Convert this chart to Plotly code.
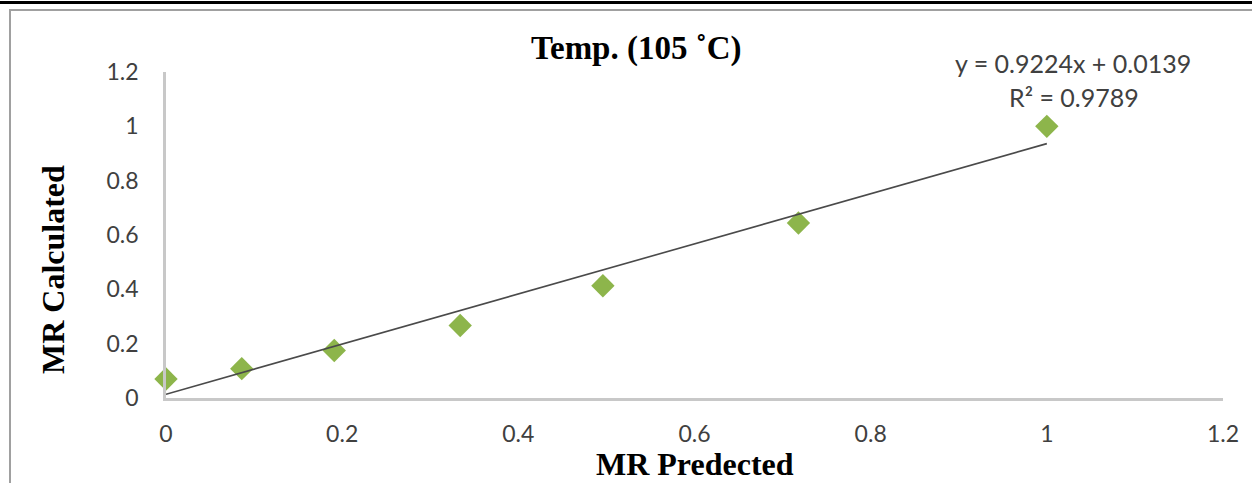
import plotly.graph_objects as go

# ---- data ----
mr_predicted = [0.0, 0.086, 0.191, 0.334, 0.496, 0.718, 1.0]
mr_calculated = [0.070, 0.108, 0.175, 0.267, 0.413, 0.644, 1.0]
trend_slope = 0.9224
trend_intercept = 0.0139
trend_x = [0.0, 1.0]
tick_vals = [0, 0.2, 0.4, 0.6, 0.8, 1.0, 1.2]
tick_text = ["0", "0.2", "0.4", "0.6", "0.8", "1", "1.2"]
chart_title = "Temp. (105 ˚C)"
x_title = "MR Predected"
y_title = "MR Calculated"
eq_text = "y = 0.9224x + 0.0139"
r2_text = "R² = 0.9789"

W, H = 1252, 483
L, R, T, B = 166, 29, 72, 85
PW, PH = W - L - R, H - T - B


def px(x):
    return (x - L) / PW


def py(y):
    return (H - B - y) / PH


trend_y = [trend_slope * v + trend_intercept for v in trend_x]

fig = go.Figure()
fig.add_trace(go.Scatter(
    x=mr_predicted, y=mr_calculated, mode="markers",
    marker=dict(symbol="diamond", size=18, color="#8DB54B", line=dict(width=0)),
    cliponaxis=False, showlegend=False,
))
fig.add_trace(go.Scatter(
    x=trend_x, y=trend_y, mode="lines",
    line=dict(color="#4A4A4A", width=1.6), showlegend=False,
))

sans = "Lato, Liberation Sans, sans-serif"
tickfont = dict(family=sans, size=23, color="#404040")
fig.update_xaxes(range=[0, 1.2], tickvals=tick_vals, ticktext=tick_text,
                 showgrid=False, zeroline=False, showline=True,
                 linecolor="#C8C8C8", linewidth=2.5, ticks="",
                 tickfont=tickfont, ticklabelstandoff=14)
fig.update_yaxes(range=[0, 1.2], tickvals=tick_vals, ticktext=tick_text,
                 showgrid=False, zeroline=False, showline=True,
                 linecolor="#C8C8C8", linewidth=2.5, ticks="",
                 tickfont=tickfont, ticklabelstandoff=20)

serif = "Liberation Serif, Times New Roman, serif"
ann = []
ann.append(dict(text="<b>%s</b>" % chart_title, x=px(636), y=py(49),
                font=dict(family=serif, size=33, color="black")))
ann.append(dict(text="<b>%s</b>" % x_title, x=px(695), y=py(464),
                font=dict(family=serif, size=32, color="black")))
ann.append(dict(text="<b>%s</b>" % y_title, x=px(53), y=py(270), textangle=-90,
                font=dict(family=serif, size=32, color="black")))
ann.append(dict(text=eq_text, x=px(1073), y=py(63),
                font=dict(family=sans, size=25, color="#404040")))
ann.append(dict(text=r2_text, x=px(1074), y=py(97),
                font=dict(family=sans, size=25, color="#404040")))
for a in ann:
    a.update(xref="paper", yref="paper", showarrow=False, xanchor="center", yanchor="middle")

shapes = [
    dict(type="line", xref="paper", yref="paper", x0=px(0), x1=px(W), y0=py(2.5), y1=py(2.5),
         line=dict(color="black", width=3)),
    dict(type="line", xref="paper", yref="paper", x0=px(9), x1=px(W), y0=py(10), y1=py(10),
         line=dict(color="#A0A0A0", width=2)),
    dict(type="line", xref="paper", yref="paper", x0=px(10), x1=px(10), y0=py(10), y1=py(H),
         line=dict(color="#A0A0A0", width=2)),
]

fig.update_layout(
    width=W, height=H, autosize=False,
    margin=dict(l=L, r=R, t=T, b=B, pad=0),
    paper_bgcolor="white", plot_bgcolor="white",
    annotations=ann, shapes=shapes, showlegend=False,
)
fig.write_html("out.html")
